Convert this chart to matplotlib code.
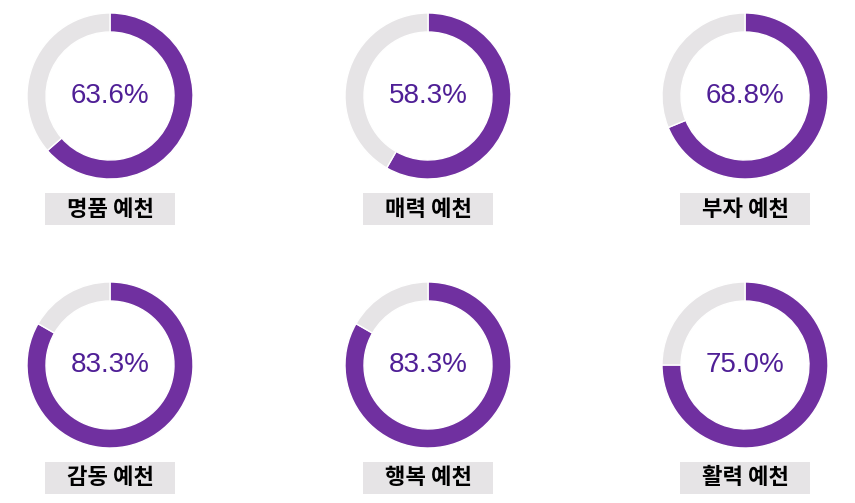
import matplotlib
matplotlib.use("Agg")
import matplotlib.pyplot as plt
from matplotlib.patches import Rectangle

# chart data
labels = ['명품 예천', '매력 예천', '부자 예천', '감동 예천', '행복 예천', '활력 예천']
values = [63.6, 58.3, 68.8, 83.3, 83.3, 75.0]

purple = '#7030A0'
gray = '#E6E4E6'
text_purple = '#4F1F96'

W, H = 855, 503
fig = plt.figure(figsize=(W / 100, H / 100), dpi=100)
ax = fig.add_axes([0, 0, 1, 1])

col_x = [110, 428, 745]
row_y = [96, 365]
outer_r = 83
ring_w = 19

for i, (lab, val) in enumerate(zip(labels, values)):
    cx = col_x[i % 3]
    cy = H - row_y[i // 3]
    ax.pie([val, 100 - val], colors=[purple, gray], startangle=90,
           counterclock=False, center=(cx, cy), radius=outer_r,
           wedgeprops=dict(width=ring_w, edgecolor='white', linewidth=1.0),
           frame=True)
    ax.text(cx, cy, f'{val:.1f}%', ha='center', va='center',
            fontsize=20, color=text_purple, family='Liberation Sans')
    # label box under the donut
    by = H - (row_y[i // 3] + 113)
    ax.add_patch(Rectangle((cx - 65, by - 16), 130, 32, facecolor=gray,
                           edgecolor='none'))
    ax.text(cx, by, lab, ha='center', va='center', fontsize=16,
            fontweight='heavy', color='black',
            family=['Noto Sans CJK KR', 'DejaVu Sans'])

ax.set_xlim(0, W)
ax.set_ylim(0, H)
ax.set_aspect('equal')
ax.axis('off')
fig.savefig('out.png', dpi=100)
